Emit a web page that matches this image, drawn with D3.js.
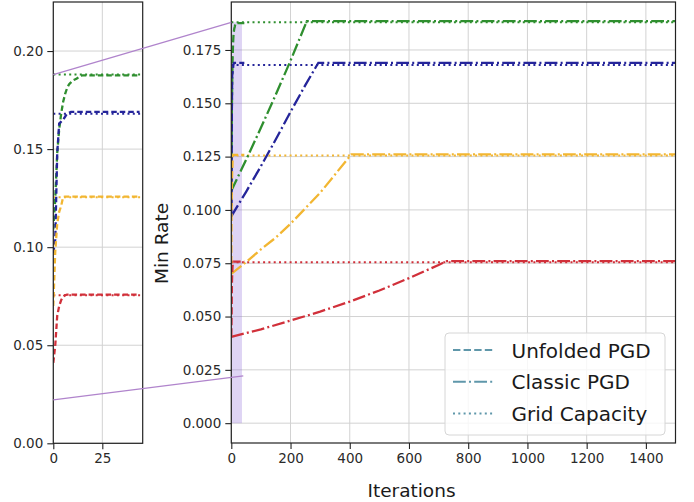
<!DOCTYPE html>
<html>
<head>
<meta charset="utf-8">
<script src="https://cdn.jsdelivr.net/npm/d3@7"></script>
<style>
  html, body { margin: 0; padding: 0; background: #fff; }
  svg { display: block; font-family: "DejaVu Sans", sans-serif; }
</style>
</head>
<body>
<script>
// ---- data ---------------------------------------------------------------
const seriesColors = ["#2f8f2f", "#25259a", "#f2b632", "#d1303a"];

// Grid capacity (horizontal reference per scenario)
const gridCapacity = [0.188, 0.168, 0.1255, 0.0755];

// Classic PGD: iteration / min-rate pairs per scenario
const classicGreenIter = [0, 50, 100, 150, 200, 255, 1500];
const classicGreenRate = [0.109, 0.1235, 0.1385, 0.154, 0.170, 0.1885, 0.1885];
const classicBlueIter  = [0, 50, 100, 150, 200, 250, 294, 1500];
const classicBlueRate  = [0.097, 0.1085, 0.1205, 0.133, 0.146, 0.1585, 0.169, 0.169];
const classicYellowIter = [0, 50, 100, 150, 200, 300, 405, 1500];
const classicYellowRate = [0.070, 0.0755, 0.0815, 0.087, 0.0935, 0.108, 0.126, 0.126];
const classicRedIter   = [0, 100, 200, 300, 400, 500, 600, 700, 728, 1500];
const classicRedRate   = [0.0405, 0.044, 0.0481, 0.0523, 0.057, 0.0622, 0.068, 0.0742, 0.076, 0.076];

// Unfolded PGD: shared iteration grid
const unfoldedIter   = [0, 1, 2, 3, 4, 5, 6, 7, 8, 9, 10, 11, 12, 13, 14, 15, 44];
const unfoldedGreen  = [0.109, 0.125, 0.148, 0.160, 0.168, 0.174, 0.178, 0.181, 0.183, 0.184, 0.185, 0.1855, 0.186, 0.1868, 0.1874, 0.1876, 0.1876];
const unfoldedBlue   = [0.097, 0.104, 0.148, 0.163, 0.164, 0.165, 0.1665, 0.168, 0.1685, 0.169, 0.169, 0.169, 0.169, 0.169, 0.169, 0.169, 0.169];
const unfoldedYellow = [0.070, 0.098, 0.112, 0.118, 0.121, 0.1255, 0.1258, 0.1258, 0.1258, 0.1258, 0.1258, 0.1258, 0.1258, 0.1258, 0.1258, 0.1258, 0.1258];
const unfoldedRed    = [0.041, 0.050, 0.065, 0.070, 0.073, 0.0748, 0.0755, 0.0758, 0.0758, 0.0758, 0.0758, 0.0758, 0.0758, 0.0758, 0.0758, 0.0758, 0.0758];

const mainXTicks = [0, 200, 400, 600, 800, 1000, 1200, 1400];
const mainYTicks = [0, 0.025, 0.05, 0.075, 0.1, 0.125, 0.15, 0.175];
const insetXTicks = [0, 25];
const insetYTicks = [0, 0.05, 0.1, 0.15, 0.2];

const legendLabels = ["Unfolded PGD", "Classic PGD", "Grid Capacity"];

// zoomed region: shaded span on the main axes and connector anchor points
const zoomSpanIter = [0, 36];
const zoomSpanRate = [0, 0.188];
const connectorUpper = { inset: [0, 0.188], main: [0, 0.188] };
const connectorLower = { inset: [0, 0.0221], main: [40.5, 0.0222] };

// ---- layout -------------------------------------------------------------
const W = 694, H = 502;
const svg = d3.select("body").append("svg").attr("width", W).attr("height", H);

const main = { left: 231.3, right: 675.5, top: 2, bottom: 443 };
const inset = { left: 53.3, right: 142.7, top: 2, bottom: 443.3 };

const x = d3.scaleLinear().domain([0, 1500]).range([main.left, main.right]);
const y = d3.scaleLinear().domain([-0.0093, 0.1975]).range([main.bottom, main.top]);
const xi = d3.scaleLinear().domain([0, 45.6]).range([inset.left, inset.right]);
const yi = d3.scaleLinear().domain([0, 0.225]).range([inset.bottom, inset.top]);

const gridColor = "#d2d2d2";
const tickFont = 13.5;
const dash = { dashed: "7.4,3.2", dashdot: "12.8,3.2,2,3.2", dotted: "2,3.3" };

const defs = svg.append("defs");
defs.append("clipPath").attr("id", "clipMain").append("rect")
  .attr("x", main.left).attr("y", main.top)
  .attr("width", main.right - main.left).attr("height", main.bottom - main.top);
defs.append("clipPath").attr("id", "clipInset").append("rect")
  .attr("x", inset.left).attr("y", inset.top)
  .attr("width", inset.right - inset.left).attr("height", inset.bottom - inset.top);

function drawGrid(box, sx, sy, xt, yt) {
  const g = svg.append("g");
  g.append("g").selectAll("line").data(xt).join("line")
    .attr("x1", d => sx(d)).attr("x2", d => sx(d))
    .attr("y1", box.top).attr("y2", box.bottom)
    .attr("stroke", gridColor).attr("stroke-width", 1);
  g.append("g").selectAll("line").data(yt).join("line")
    .attr("x1", box.left).attr("x2", box.right)
    .attr("y1", d => sy(d)).attr("y2", d => sy(d))
    .attr("stroke", gridColor).attr("stroke-width", 1);
  return g;
}

function drawAxes(box, sx, sy, xt, yt, xfmt, yfmt) {
  const g = svg.append("g");
  const ax = g.append("g").attr("transform", `translate(0,${box.bottom})`)
    .call(d3.axisBottom(sx).tickValues(xt).tickFormat(xfmt).tickSize(6).tickPadding(4));
  const ay = g.append("g").attr("transform", `translate(${box.left},0)`)
    .call(d3.axisLeft(sy).tickValues(yt).tickFormat(yfmt).tickSize(6).tickPadding(4));
  [ax, ay].forEach(a => {
    a.select(".domain").remove();
    a.selectAll(".tick line").attr("stroke", "#222").attr("stroke-width", 1.1);
    a.selectAll(".tick text").attr("fill", "#2a2a2a")
      .style("font-size", tickFont + "px").style("font-family", "DejaVu Sans");
  });
  g.append("rect").attr("x", box.left).attr("y", box.top)
    .attr("width", box.right - box.left).attr("height", box.bottom - box.top)
    .attr("fill", "none").attr("stroke", "#222").attr("stroke-width", 1.2);
}

function pathFrom(sx, sy, xs, ys) {
  return d3.line().x(d => sx(d[0])).y(d => sy(d[1]))(xs.map((v, i) => [v, ys[i]]));
}

// ---- main axes ----------------------------------------------------------
drawGrid(main, x, y, mainXTicks, mainYTicks);

const mainPlot = svg.append("g").attr("clip-path", "url(#clipMain)");

mainPlot.append("rect")
  .attr("x", x(zoomSpanIter[0])).attr("y", y(zoomSpanRate[1]))
  .attr("width", x(zoomSpanIter[1]) - x(zoomSpanIter[0]))
  .attr("height", y(zoomSpanRate[0]) - y(zoomSpanRate[1]))
  .attr("fill", "#9370db").attr("fill-opacity", 0.3);

const classic = [
  [classicGreenIter, classicGreenRate],
  [classicBlueIter, classicBlueRate],
  [classicYellowIter, classicYellowRate],
  [classicRedIter, classicRedRate]
];
const unfolded = [unfoldedGreen, unfoldedBlue, unfoldedYellow, unfoldedRed];

seriesColors.forEach((c, i) => {
  mainPlot.append("line")
    .attr("x1", main.left).attr("x2", main.right)
    .attr("y1", y(gridCapacity[i])).attr("y2", y(gridCapacity[i]))
    .attr("stroke", c).attr("stroke-width", 2).attr("stroke-dasharray", dash.dotted);
});
seriesColors.forEach((c, i) => {
  mainPlot.append("path").attr("d", pathFrom(x, y, classic[i][0], classic[i][1]))
    .attr("fill", "none").attr("stroke", c).attr("stroke-width", 2.3)
    .attr("stroke-dasharray", dash.dashdot);
});
seriesColors.forEach((c, i) => {
  mainPlot.append("path").attr("d", pathFrom(x, y, unfoldedIter, unfolded[i]))
    .attr("fill", "none").attr("stroke", c).attr("stroke-width", 2.3)
    .attr("stroke-dasharray", dash.dashed);
});

drawAxes(main, x, y, mainXTicks, mainYTicks, d3.format("d"), d3.format(".3f"));

// ---- inset axes ---------------------------------------------------------
drawGrid(inset, xi, yi, insetXTicks, insetYTicks);
const insetPlot = svg.append("g").attr("clip-path", "url(#clipInset)");
seriesColors.forEach((c, i) => {
  insetPlot.append("line")
    .attr("x1", inset.left).attr("x2", inset.right)
    .attr("y1", yi(gridCapacity[i])).attr("y2", yi(gridCapacity[i]))
    .attr("stroke", c).attr("stroke-width", 2).attr("stroke-dasharray", dash.dotted);
});
seriesColors.forEach((c, i) => {
  insetPlot.append("path").attr("d", pathFrom(xi, yi, unfoldedIter, unfolded[i]))
    .attr("fill", "none").attr("stroke", c).attr("stroke-width", 2.3)
    .attr("stroke-dasharray", "5.5,3");
});
drawAxes(inset, xi, yi, insetXTicks, insetYTicks, d3.format("d"), d3.format(".2f"));

// ---- connectors between the zoom region and the inset -------------------
[connectorUpper, connectorLower].forEach(cn => {
  svg.append("line")
    .attr("x1", xi(cn.inset[0])).attr("y1", yi(cn.inset[1]))
    .attr("x2", x(cn.main[0])).attr("y2", y(cn.main[1]))
    .attr("stroke", "#b084cc").attr("stroke-width", 1.3);
});

// ---- axis labels --------------------------------------------------------
svg.append("text").attr("x", 411.5).attr("y", 496.5).attr("text-anchor", "middle")
  .style("font-size", "18.5px").attr("fill", "#1a1a1a").text("Iterations");
svg.append("text").attr("transform", "translate(168,243.5) rotate(-90)")
  .attr("text-anchor", "middle")
  .style("font-size", "18.5px").attr("fill", "#1a1a1a").text("Min Rate");

// ---- legend -------------------------------------------------------------
const lg = svg.append("g");
lg.append("rect").attr("x", 445).attr("y", 333).attr("width", 220).attr("height", 102)
  .attr("rx", 4).attr("fill", "#fff").attr("fill-opacity", 0.8)
  .attr("stroke", "#d6d6d6").attr("stroke-width", 1);
const legendDash = [dash.dashed, dash.dashdot, dash.dotted];
legendLabels.forEach((t, i) => {
  const cy = 350 + i * 31.7;
  lg.append("line").attr("x1", 453).attr("x2", 493).attr("y1", cy).attr("y2", cy)
    .attr("stroke", "#5f97aa").attr("stroke-width", 2).attr("stroke-dasharray", legendDash[i]);
  lg.append("text").attr("x", 511.5).attr("y", cy + 7.5)
    .style("font-size", "20px").attr("fill", "#1a1a1a").text(t);
});
</script>
</body>
</html>
